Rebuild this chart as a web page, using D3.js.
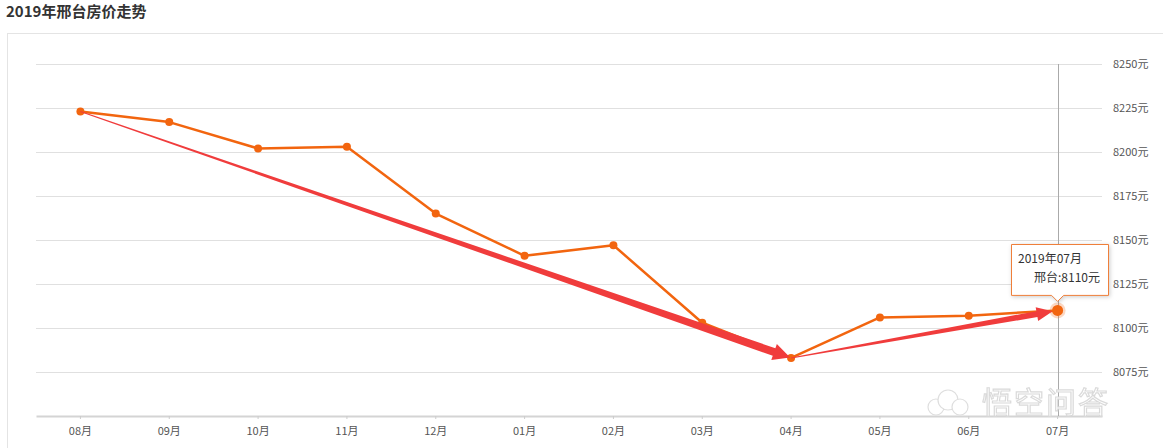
<!DOCTYPE html>
<html>
<head>
<meta charset="utf-8">
<script src="https://cdn.jsdelivr.net/npm/d3@7"></script>
<style>
  body { margin: 0; background: #fff; font-family: "Noto Sans CJK SC", "Noto Sans", sans-serif; }
</style>
</head>
<body>
<div id="chart"></div>
<script>
var months = ['08月', '09月', '10月', '11月', '12月', '01月', '02月', '03月', '04月', '05月', '06月', '07月'];
var prices = [8223, 8217, 8202, 8203, 8165, 8141, 8147, 8103, 8083, 8106, 8107, 8110];
var yTicks = [8075, 8100, 8125, 8150, 8175, 8200, 8225, 8250];
var title = '2019年邢台房价走势';
var cityName = '邢台';
var lastLabel = '2019年07月';
var watermark = '悟空问答';

var width = 1163, height = 448;

var svg = d3.select('#chart').append('svg')
    .attr('width', width)
    .attr('height', height);

// title
svg.append('text')
    .attr('x', 6)
    .attr('y', 17)
    .attr('font-size', '15px')
    .attr('font-weight', 'bold')
    .attr('fill', '#333')
    .text(title);

// outer frame
svg.append('rect')
    .attr('x', 7.5)
    .attr('y', 33.5)
    .attr('width', 1170)
    .attr('height', 430)
    .attr('fill', 'none')
    .attr('stroke', '#e4e4e4');

var x = d3.scaleBand()
    .domain(months)
    .range([36, 1102]);

var y = d3.scaleLinear()
    .domain([8050, 8250])
    .range([416, 64]);

var cx = function (i) { return x(months[i]) + x.bandwidth() / 2; };

// gridlines
svg.append('g')
    .selectAll('line')
    .data(yTicks)
    .enter().append('line')
    .attr('x1', 36)
    .attr('x2', 1102)
    .attr('y1', function (d) { return Math.round(y(d)) + 0.5; })
    .attr('y2', function (d) { return Math.round(y(d)) + 0.5; })
    .attr('stroke', '#e0e0e0');

// y labels on right
svg.append('g')
    .selectAll('text')
    .data(yTicks)
    .enter().append('text')
    .attr('x', 1113)
    .attr('y', function (d) { return y(d) + 4; })
    .attr('font-size', '11px')
    .attr('fill', '#555')
    .text(function (d) { return d + '元'; });

// bottom axis
var xAxis = d3.axisBottom(x).tickSize(3).tickSizeOuter(0);
var gx = svg.append('g')
    .attr('transform', 'translate(0,416)')
    .call(xAxis);
gx.select('.domain').attr('stroke', '#d4d4d4').attr('stroke-width', 2);
gx.selectAll('.tick line').attr('stroke', '#ccc');
gx.selectAll('.tick text')
    .attr('y', 11)
    .attr('font-size', '11px')
    .attr('font-family', '"Noto Sans CJK SC", sans-serif')
    .attr('fill', '#555');

// crosshair at last point
var lastI = prices.length - 1;
svg.append('line')
    .attr('x1', Math.round(cx(lastI)) + 0.5)
    .attr('x2', Math.round(cx(lastI)) + 0.5)
    .attr('y1', 64)
    .attr('y2', 416)
    .attr('stroke', '#aaa');

// watermark (cloud logo + text)
var wm = svg.append('g').attr('opacity', 0.95);
var cloud = [[936, 407, 8], [948, 400, 10], [960, 407, 8]];
wm.selectAll('circle')
    .data(cloud)
    .enter().append('circle')
    .attr('cx', function (d) { return d[0]; })
    .attr('cy', function (d) { return d[1]; })
    .attr('r', function (d) { return d[2]; })
    .attr('fill', '#fff')
    .attr('stroke', '#ddd')
    .attr('stroke-width', 1.2);
wm.append('text')
    .attr('x', 982)
    .attr('y', 413)
    .attr('font-size', '30px')
    .attr('letter-spacing', '2px')
    .attr('fill', '#fff')
    .attr('stroke', '#d8d8d8')
    .attr('stroke-width', 1.2)
    .text(watermark);

// price line
var line = d3.line()
    .x(function (d, i) { return cx(i); })
    .y(function (d) { return y(d); });

svg.append('path')
    .datum(prices)
    .attr('d', line)
    .attr('fill', 'none')
    .attr('stroke', '#f2650f')
    .attr('stroke-width', 2.5)
    .attr('stroke-linejoin', 'round');

svg.append('g')
    .selectAll('circle')
    .data(prices.slice(0, lastI))
    .enter().append('circle')
    .attr('cx', function (d, i) { return cx(i); })
    .attr('cy', function (d) { return y(d); })
    .attr('r', 4)
    .attr('fill', '#f2650f');

// hand-drawn red arrows
function arrow(i0, i1, w0, w1, headLen, headW, shorten) {
    var x0 = cx(i0), y0 = y(prices[i0]);
    var x1 = cx(i1), y1 = y(prices[i1]);
    var dx = x1 - x0, dy = y1 - y0, len = Math.sqrt(dx * dx + dy * dy);
    var ux = dx / len, uy = dy / len, nx = -uy, ny = ux;
    x1 = x1 - ux * shorten; y1 = y1 - uy * shorten;
    var bx = x1 - ux * headLen, by = y1 - uy * headLen;
    var pts = [
        [x0 + nx * w0 / 2, y0 + ny * w0 / 2],
        [bx + nx * w1 / 2, by + ny * w1 / 2],
        [bx + nx * headW / 2, by + ny * headW / 2],
        [x1, y1],
        [bx - nx * headW / 2, by - ny * headW / 2],
        [bx - nx * w1 / 2, by - ny * w1 / 2],
        [x0 - nx * w0 / 2, y0 - ny * w0 / 2]
    ];
    svg.append('polygon')
        .attr('points', pts.map(function (p) { return p.join(','); }).join(' '))
        .attr('fill', '#f03c3c');
}
arrow(0, 8, 1, 8, 17, 17, 1);
arrow(8, 11, 1, 6, 16, 14, 5);

// highlighted last point
svg.append('circle')
    .attr('cx', cx(lastI))
    .attr('cy', y(prices[lastI]))
    .attr('r', 8)
    .attr('fill', '#f2650f')
    .attr('opacity', 0.25);
svg.append('circle')
    .attr('cx', cx(lastI))
    .attr('cy', y(prices[lastI]))
    .attr('r', 5.5)
    .attr('fill', '#f2650f');

// tooltip
var tx = cx(lastI), ty = y(prices[lastI]) - 15;
var tip = svg.append('g');
var bl = 1011.5, br = 1108.5, bt = 244.5, bb = ty;
tip.append('path')
    .attr('d', 'M' + bl + ',' + bt + 'H' + br + 'V' + bb + 'H' + (tx + 6) + 'L' + tx + ',' + (bb + 6) + 'L' + (tx - 6) + ',' + bb + 'H' + bl + 'Z')
    .attr('fill', '#fff')
    .attr('stroke', '#ef7f3a')
    .style('filter', 'drop-shadow(1px 1px 2px rgba(0,0,0,0.2))');
tip.append('text')
    .attr('x', 1018)
    .attr('y', 263)
    .attr('font-size', '12px')
    .attr('fill', '#333')
    .text(lastLabel);
tip.append('text')
    .attr('x', 1100)
    .attr('y', 282)
    .attr('text-anchor', 'end')
    .attr('font-size', '12px')
    .attr('fill', '#333')
    .text(cityName + ':' + prices[lastI] + '元');
</script>
</body>
</html>
